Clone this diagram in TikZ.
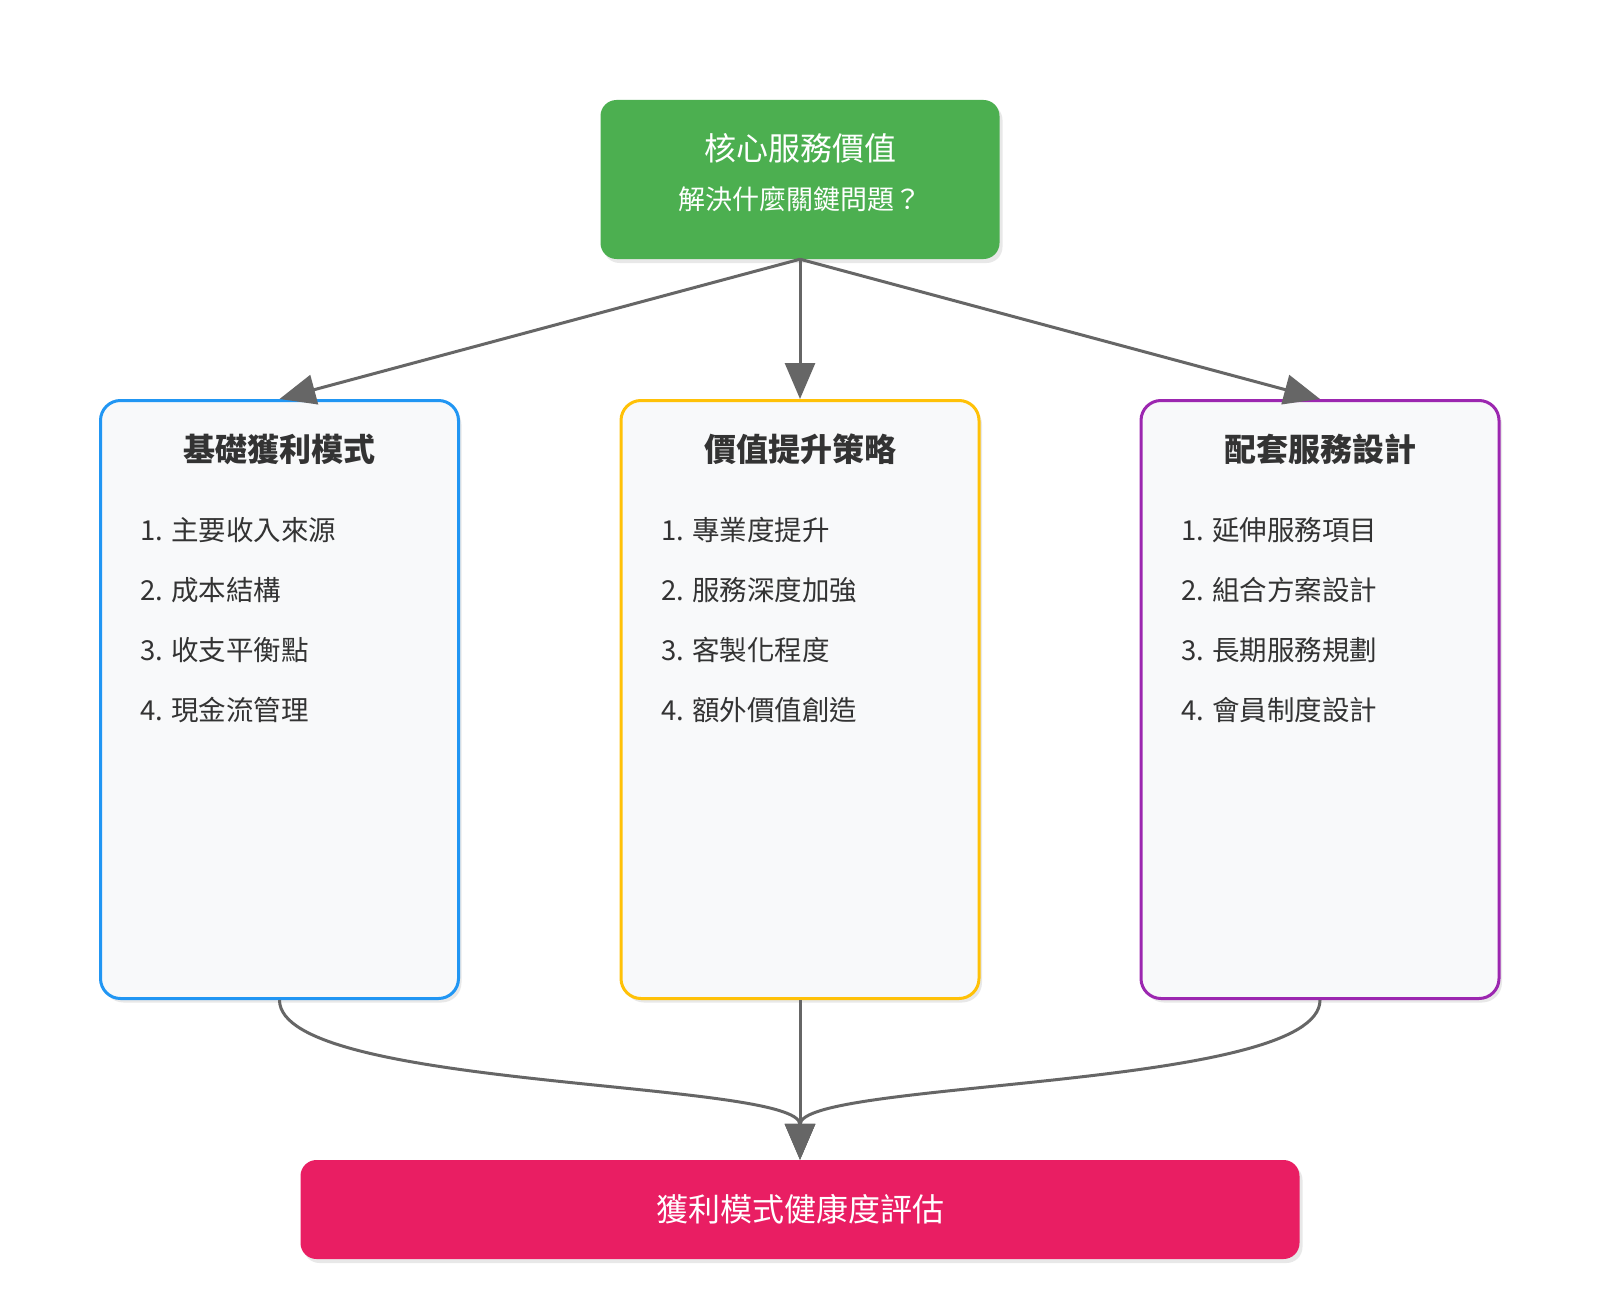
\documentclass[tikz,border=0pt]{standalone}
\usepackage{fontspec}
\setmainfont{Noto Sans CJK TC}
\usetikzlibrary{arrows.meta,shadows}
\definecolor{cgreen}{HTML}{4CAF50}
\definecolor{cblue}{HTML}{2196F3}
\definecolor{cyellow}{HTML}{FFC107}
\definecolor{cpurple}{HTML}{9C27B0}
\definecolor{cpink}{HTML}{E91E63}
\definecolor{cpanel}{HTML}{F8F9FA}
\definecolor{carrow}{HTML}{666666}
\definecolor{ctext}{HTML}{333333}
\begin{document}
\begin{tikzpicture}[x=1pt,y=-1pt,
  shadowed/.style={drop shadow={opacity=0.18,shadow xshift=3pt,shadow yshift=-4pt}},
  topbox/.style={shadowed,fill=cgreen,rounded corners=16pt,minimum width=399pt,minimum height=159pt,inner sep=0pt},
  finbox/.style={shadowed,fill=cpink,rounded corners=16pt,minimum width=999pt,minimum height=99pt,inner sep=0pt},
  panel/.style={shadowed,fill=cpanel,draw=#1,line width=3pt,rounded corners=20pt,minimum width=358pt,minimum height=598pt,inner sep=0pt},
  whitebig/.style={text=white,font=\fontsize{32pt}{38pt}\selectfont,inner sep=0pt},
  whitesmall/.style={text=white,font=\fontsize{27pt}{32pt}\selectfont,inner sep=0pt},
  paneltitle/.style={text=ctext,font=\fontsize{32pt}{38pt}\selectfont\bfseries,inner sep=0pt},
  item/.style={text=ctext,font=\fontsize{27.5pt}{32pt}\selectfont,inner sep=0pt,anchor=west},
  arr/.style={draw=carrow,line width=3pt,-{Triangle[length=36pt,width=30pt]}}
]
\useasboundingbox[fill=white] (0,0) rectangle (1600,1300);

% top box
\node[topbox] (core) at (800,179.5) {};
\node[whitebig] (coreT) at (800,148) {核心服務價值};
\node[whitesmall] (coreS) at (800,199) {解決什麼關鍵問題？};

% panels
\node[panel=cblue] (b1) at (279.5,699.5) {};
\node[panel=cyellow] (b2) at (800,699.5) {};
\node[panel=cpurple] (b3) at (1320,699.5) {};

\node[paneltitle] (t1) at (279.5,449) {基礎獲利模式};
\node[paneltitle] (t2) at (800,449) {價值提升策略};
\node[paneltitle] (t3) at (1320,449) {配套服務設計};

\node[item] (a1) at (140,530) {1. 主要收入來源};
\node[item] (a2) at (140,590) {2. 成本結構};
\node[item] (a3) at (140,650) {3. 收支平衡點};
\node[item] (a4) at (140,710) {4. 現金流管理};

\node[item] (m1) at (661,530) {1. 專業度提升};
\node[item] (m2) at (661,590) {2. 服務深度加強};
\node[item] (m3) at (661,650) {3. 客製化程度};
\node[item] (m4) at (661,710) {4. 額外價值創造};

\node[item] (r1) at (1181,530) {1. 延伸服務項目};
\node[item] (r2) at (1181,590) {2. 組合方案設計};
\node[item] (r3) at (1181,650) {3. 長期服務規劃};
\node[item] (r4) at (1181,710) {4. 會員制度設計};

% bottom box
\node[finbox] (fin) at (800,1209.5) {};
\node[whitebig] (finT) at (800,1209) {獲利模式健康度評估};

% connectors
\draw[arr] (core.south) -- (b1.north);
\draw[arr] (core.south) -- (b2.north);
\draw[arr] (core.south) -- (b3.north);

\draw[arr] (b1.south) .. controls +(0,90) and +(0,-80) .. (fin.north);
\draw[arr] (b3.south) .. controls +(0,90) and +(0,-80) .. (fin.north);
\draw[arr] (b2.south) -- (fin.north);
\end{tikzpicture}
\end{document}
